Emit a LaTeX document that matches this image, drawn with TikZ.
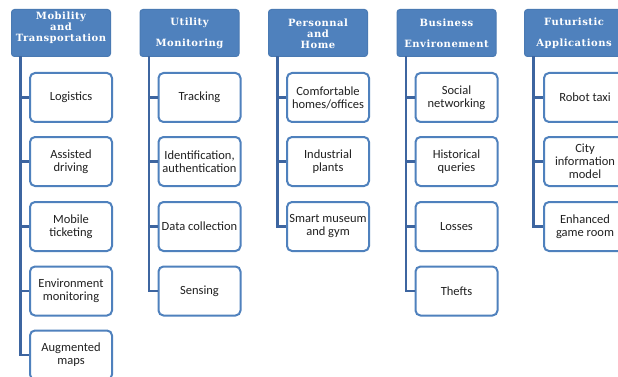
\documentclass[tikz,border=0pt]{standalone}
\usepackage{fontspec}
\newfontfamily\hdrfont[LetterSpace=5]{DejaVu Serif}
\newfontfamily\boxfont{Carlito}
\definecolor{hdrblue}{HTML}{4F81BD}
\definecolor{hdredge}{HTML}{4A7AB3}
\definecolor{connblue}{HTML}{3D65A0}
\definecolor{itemtext}{HTML}{202020}
\begin{document}
\begin{tikzpicture}[x=1pt,y=-1pt,
  hdr/.style={draw=hdredge, fill=hdrblue, rounded corners=3pt, minimum width=99pt, minimum height=47pt, inner sep=0pt, line width=1pt},
  hdrtext/.style={text=white, align=center, font=\hdrfont\bfseries\fontsize{10}{11}\selectfont, inner sep=0pt},
  item/.style={draw=hdrblue, line width=2pt, fill=white, rounded corners=5pt, minimum width=82pt, minimum height=49pt, align=center, font=\boxfont\fontsize{12.5}{13}\selectfont, inner sep=0pt, text=itemtext},
  conn/.style={draw=connblue, line width=2.5pt}]
\useasboundingbox (0,0) rectangle (618,377);
\clip (0,0) rectangle (618,377);
\fill[white] (0,0) rectangle (618,377);

% headers
\node[hdr] (h1) at (61,33) {};
\node[hdrtext] (h1t) at (61,28) {Mobility\\and\\Transportation};
\node[hdr] (h2) at (189.5,33) {};
\node[hdrtext] (h2t) at (189.5,33) {Utility\\[10pt]Monitoring};
\node[hdr] (h3) at (318,33) {};
\node[hdrtext] (h3t) at (318,33.5) {Personnal\\and\\Home};
\node[hdr] (h4) at (446.5,33) {};
\node[hdrtext] (h4t) at (446.5,33) {Business\\[10pt]Environement};
\node[hdr] (h5) at (574,33) {};
\node[hdrtext] (h5t) at (574,33) {Futuristic\\[10pt]Applications};

% column 1
\node[item] (a1) at (71,97.5) {Logistics};
\node[item] (a2) at (71,161.5) {Assisted\\driving};
\node[item] (a3) at (71,226.5) {Mobile\\ticketing};
\node[item] (a4) at (71,291) {Environment\\monitoring};
\node[item] (a5) at (71,355) {Augmented\\maps};
% column 2
\node[item] (b1) at (199.5,97.5) {Tracking};
\node[item] (b2) at (199.5,161.5) {Identification,\\authentication};
\node[item] (b3) at (199.5,226.5) {Data collection};
\node[item] (b4) at (199.5,291) {Sensing};
% column 3
\node[item] (c1) at (328,97.5) {Comfortable\\homes/offices};
\node[item] (c2) at (328,161.5) {Industrial\\plants};
\node[item] (c3) at (328,226.5) {Smart museum\\and gym};
% column 4
\node[item] (d1) at (456.5,97.5) {Social\\networking};
\node[item] (d2) at (456.5,161.5) {Historical\\queries};
\node[item] (d3) at (456.5,226.5) {Losses};
\node[item] (d4) at (456.5,291) {Thefts};
% column 5
\node[item] (e1) at (585,97.5) {Robot taxi};
\node[item] (e2) at (585,161.5) {City\\information\\model};
\node[item] (e3) at (585,226.5) {Enhanced\\game room};

% trunks
\coordinate (v1) at (20.5,56.5);
\coordinate (v2) at (149,56.5);
\coordinate (v3) at (277.5,56.5);
\coordinate (v4) at (406,56.5);
\coordinate (v5) at (533.5,56.5);

\foreach \n in {a1,a2,a3,a4,a5} \draw[conn] (v1) |- (\n.west);
\foreach \n in {b1,b2,b3,b4} \draw[conn] (v2) |- (\n.west);
\foreach \n in {c1,c2,c3} \draw[conn] (v3) |- (\n.west);
\foreach \n in {d1,d2,d3,d4} \draw[conn] (v4) |- (\n.west);
\foreach \n in {e1,e2,e3} \draw[conn] (v5) |- (\n.west);
\end{tikzpicture}
\end{document}
